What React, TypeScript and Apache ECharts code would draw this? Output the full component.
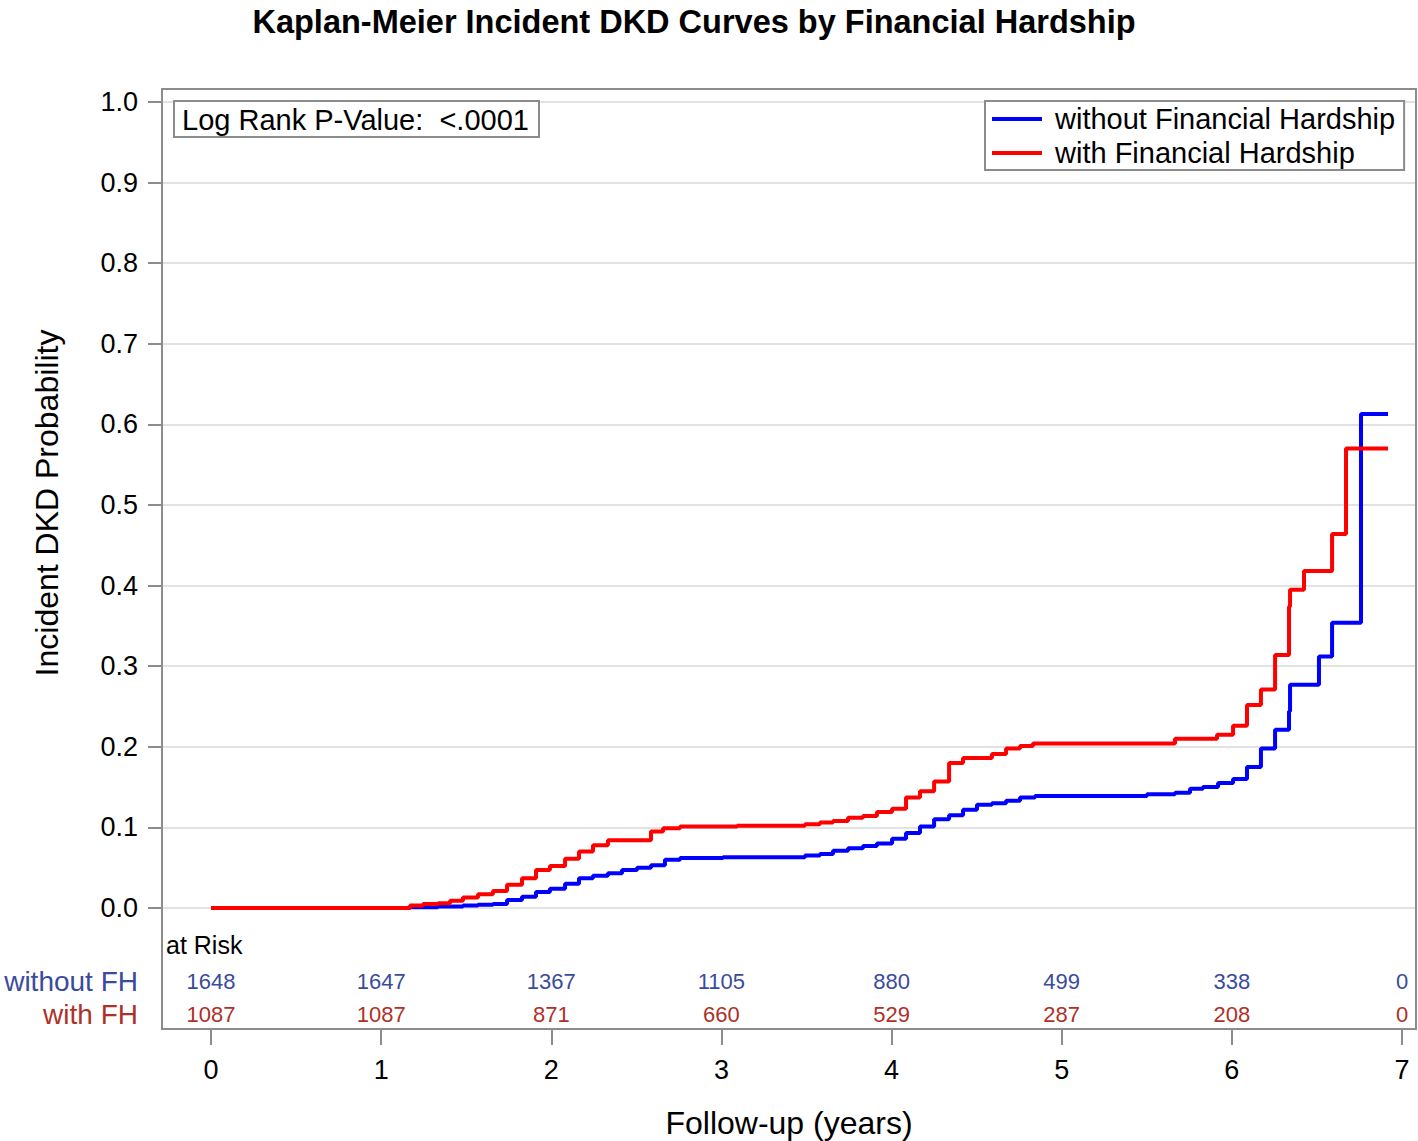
import React, { useEffect, useRef } from "react";
import * as echarts from "echarts";

const TITLE = "Kaplan-Meier Incident DKD Curves by Financial Hardship";
const SERIES_NAMES = ["without Financial Hardship", "with Financial Hardship"];

const blueT = [0, 1.17, 1.334, 1.481, 1.569, 1.657, 1.74, 1.828, 1.91, 1.992, 2.081, 2.163, 2.245, 2.333, 2.416, 2.504, 2.586, 2.668, 2.757, 3.009, 3.491, 3.579, 3.656, 3.744, 3.832, 3.914, 4.003, 4.085, 4.167, 4.25, 4.338, 4.42, 4.502, 4.59, 4.673, 4.755, 4.843, 5.501, 5.666, 5.754, 5.83, 5.919, 6.007, 6.089, 6.171, 6.254, 6.336, 6.342, 6.512, 6.589, 6.759, 6.918];
const blueV = [0, 0.001, 0.002, 0.003, 0.004, 0.005, 0.01, 0.014, 0.02, 0.024, 0.03, 0.037, 0.04, 0.043, 0.047, 0.05, 0.053, 0.06, 0.062, 0.063, 0.065, 0.067, 0.071, 0.074, 0.077, 0.08, 0.086, 0.093, 0.101, 0.11, 0.115, 0.122, 0.128, 0.13, 0.133, 0.137, 0.139, 0.141, 0.143, 0.148, 0.15, 0.155, 0.16, 0.175, 0.198, 0.221, 0.244, 0.277, 0.312, 0.354, 0.613, 0.613];

const redT = [0, 1.17, 1.246, 1.334, 1.405, 1.481, 1.569, 1.657, 1.74, 1.828, 1.91, 1.992, 2.081, 2.163, 2.245, 2.333, 2.586, 2.657, 2.757, 3.092, 3.491, 3.579, 3.656, 3.744, 3.832, 3.914, 4.003, 4.085, 4.167, 4.25, 4.338, 4.42, 4.59, 4.673, 4.755, 4.831, 5.666, 5.913, 6.007, 6.089, 6.171, 6.254, 6.336, 6.342, 6.424, 6.589, 6.671, 6.918];
const redV = [0, 0.003, 0.005, 0.006, 0.009, 0.013, 0.017, 0.021, 0.029, 0.037, 0.047, 0.052, 0.061, 0.07, 0.078, 0.084, 0.095, 0.099, 0.101, 0.102, 0.104, 0.106, 0.108, 0.112, 0.114, 0.119, 0.123, 0.137, 0.145, 0.157, 0.18, 0.186, 0.191, 0.198, 0.201, 0.204, 0.21, 0.215, 0.226, 0.252, 0.271, 0.314, 0.374, 0.395, 0.418, 0.464, 0.57, 0.57];

const RISK_TIMES = [0, 1, 2, 3, 4, 5, 6, 7];
const RISK_ROWS = ["without FH", "with FH"];
const riskWithout = [1648, 1647, 1367, 1105, 880, 499, 338, 0];
const riskWith = [1087, 1087, 871, 660, 529, 287, 208, 0];

const FONT = '"Liberation Sans", Arial, Helvetica, sans-serif';
const BLUE = "#0000FF";
const RED = "#FF0000";
const TBLUE = "#3A4B9E";
const TRED = "#AE3128";
const GRAYLINE = "#8c8c8c";

export default function App() {
  const ref = useRef<HTMLDivElement>(null);
  useEffect(() => {
    if (!ref.current) return;
    const chart = echarts.init(ref.current, null, { renderer: "svg" });
    const pxPerYear = (1402 - 211) / 7;
    const xMin = (162 - 211) / pxPerYear;
    const xMax = (1416 - 211) / pxPerYear;
    const riskLabel = (color: string) => ({
      show: true,
      position: "inside",
      fontFamily: FONT,
      fontSize: 22,
      color,
      opacity: 1,
      textBorderWidth: 0,
      formatter: (p: any) => String(p.data[2]),
    });
    const option: any = {
      animation: false,
      title: {
        text: TITLE,
        left: 689,
        top: 0,
        textAlign: "center",
        textStyle: { fontFamily: FONT, fontWeight: "bold", fontSize: 32.5, color: "#000" },
      },
      legend: {
        data: SERIES_NAMES,
        orient: "vertical",
        left: 985,
        top: 101,
        icon: "rect",
        itemWidth: 50,
        itemHeight: 4,
        itemGap: 0,
        padding: [1, 9, 0, 7],
        borderColor: GRAYLINE,
        borderWidth: 2,
        backgroundColor: "#fff",
        textStyle: { fontFamily: FONT, fontSize: 29, color: "#000", lineHeight: 34, padding: [0, 0, 0, 8] },
      },
      grid: [
        { left: 162, right: 2, top: 102, bottom: 233 },
        { left: 211, right: 16, top: 1028, height: 1 },
        { left: 211, right: 16, top: 964.5, height: 66 },
      ],
      xAxis: [
        { gridIndex: 0, type: "value", min: xMin, max: xMax, show: false },
        {
          gridIndex: 1,
          type: "value",
          min: 0,
          max: 7,
          interval: 1,
          axisLine: { show: false },
          axisTick: { show: true, length: 16, lineStyle: { color: GRAYLINE, width: 2 } },
          axisLabel: { fontFamily: FONT, fontSize: 27, margin: 27, color: "#000" },
          splitLine: { show: false },
        },
        { gridIndex: 2, type: "value", min: 0, max: 7, show: false },
      ],
      yAxis: [
        {
          gridIndex: 0,
          type: "value",
          min: 0,
          max: 1,
          interval: 0.1,
          axisLine: { show: false, onZero: false },
          axisTick: { show: true, length: 14, lineStyle: { color: GRAYLINE, width: 2 } },
          axisLabel: { fontFamily: FONT, fontSize: 27, margin: 24, color: "#000", formatter: (v: number) => v.toFixed(1) },
          splitLine: { show: true, lineStyle: { color: "#e2e2e2", width: 2 } },
        },
        { gridIndex: 1, type: "value", show: false },
        {
          gridIndex: 2,
          type: "category",
          inverse: true,
          data: RISK_ROWS,
          axisLine: { show: false, onZero: false },
          axisTick: { show: false },
          splitLine: { show: false },
          axisLabel: {
            interval: 0,
            fontFamily: FONT,
            fontSize: 28,
            margin: 73,
            color: (v: string) => (v === RISK_ROWS[0] ? TBLUE : TRED),
          },
        },
      ],
      series: [
        {
          name: SERIES_NAMES[0],
          type: "line",
          step: "end",
          xAxisIndex: 0,
          yAxisIndex: 0,
          showSymbol: false,
          color: BLUE,
          lineStyle: { color: BLUE, width: 4 },
          data: blueT.map((t, i) => [t, blueV[i]]),
          z: 3,
        },
        {
          name: SERIES_NAMES[1],
          type: "line",
          step: "end",
          xAxisIndex: 0,
          yAxisIndex: 0,
          showSymbol: false,
          color: RED,
          lineStyle: { color: RED, width: 4 },
          data: redT.map((t, i) => [t, redV[i]]),
          z: 4,
        },
        {
          type: "scatter",
          xAxisIndex: 2,
          yAxisIndex: 2,
          symbolSize: 0,
          silent: true,
          itemStyle: { color: TBLUE },
          label: riskLabel(TBLUE),
          data: RISK_TIMES.map((t, i) => [t, 0, riskWithout[i]]),
        },
        {
          type: "scatter",
          xAxisIndex: 2,
          yAxisIndex: 2,
          symbolSize: 0,
          silent: true,
          itemStyle: { color: TRED },
          label: riskLabel(TRED),
          data: RISK_TIMES.map((t, i) => [t, 1, riskWith[i]]),
        },
      ],
      graphic: [
        {
          type: "rect",
          z: 10,
          shape: { x: 162, y: 89, width: 1254, height: 940 },
          style: { fill: "none", stroke: GRAYLINE, lineWidth: 2 },
        },
        {
          type: "rect",
          z: 11,
          shape: { x: 174, y: 101, width: 365, height: 36 },
          style: { fill: "#fff", stroke: GRAYLINE, lineWidth: 2 },
        },
        {
          type: "text",
          z: 12,
          x: 182,
          y: 120,
          style: { text: "Log Rank P-Value:  <.0001", fontFamily: FONT, fontSize: 29, fill: "#000", verticalAlign: "middle", align: "left" },
        },
        {
          type: "text",
          z: 12,
          x: 166,
          y: 945,
          style: { text: "at Risk", fontFamily: FONT, fontSize: 25, fill: "#000", verticalAlign: "middle", align: "left" },
        },
        {
          type: "text",
          z: 12,
          x: 789,
          y: 1123,
          style: { text: "Follow-up (years)", fontFamily: FONT, fontSize: 32, fill: "#000", verticalAlign: "middle", align: "center" },
        },
        {
          type: "text",
          z: 12,
          x: 47,
          y: 503,
          rotation: Math.PI / 2,
          style: { text: "Incident DKD Probability", fontFamily: FONT, fontSize: 32, fill: "#000", verticalAlign: "middle", align: "center" },
        },
      ],
    };
    chart.setOption(option);
    return () => chart.dispose();
  }, []);
  return (
    <div
      ref={ref}
      style={{ position: "absolute", left: 0, top: 0, width: "1418px", height: "1141px", background: "#fff" }}
    />
  );
}
